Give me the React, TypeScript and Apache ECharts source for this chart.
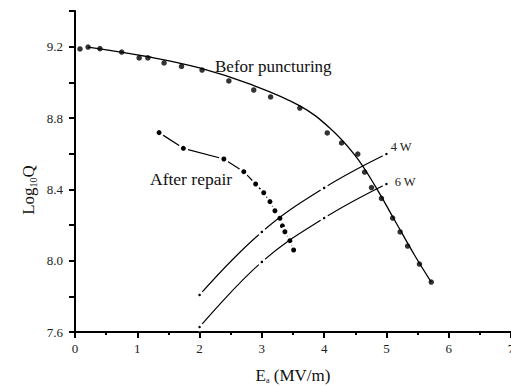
import React, { useEffect, useRef } from 'react';
import * as echarts from 'echarts';

// Axis ticks
const xLabelValues = [0, 1, 2, 3, 4, 5, 6, 7];
const yLabelValues = [7.6, 8.0, 8.4, 8.8, 9.2];

// "Befor puncturing" measured points
const beforeE = [0.08, 0.21, 0.40, 0.75, 1.03, 1.17, 1.43, 1.71, 2.04, 2.47, 2.87, 3.14, 3.61, 4.05, 4.28, 4.54, 4.65, 4.76, 4.92, 5.10, 5.22, 5.34, 5.53, 5.72];
const beforeQ = [9.187, 9.198, 9.189, 9.170, 9.137, 9.137, 9.109, 9.089, 9.069, 9.008, 8.957, 8.918, 8.856, 8.716, 8.660, 8.598, 8.497, 8.410, 8.349, 8.239, 8.161, 8.082, 7.981, 7.880];
// fitted curve through them
const fitE = [0.21, 1.20, 2.00, 2.80, 3.61, 4.09, 4.49, 4.81, 5.13, 5.45, 5.72];
const fitQ = [9.198, 9.142, 9.081, 8.991, 8.868, 8.744, 8.593, 8.424, 8.228, 8.032, 7.880];
// "After repair"
const repairE = [1.35, 1.74, 2.39, 2.71, 2.90, 3.03, 3.13, 3.21, 3.29, 3.33, 3.37, 3.45, 3.51];
const repairQ = [8.718, 8.630, 8.570, 8.499, 8.430, 8.381, 8.331, 8.280, 8.238, 8.195, 8.162, 8.112, 8.060];
// 4 W and 6 W
const w4E = [2, 3, 4, 5];
const w4Q = [7.808, 8.161, 8.408, 8.598];
const w6E = [2, 3, 4, 5];
const w6Q = [7.628, 7.993, 8.239, 8.430];

const SERIF = 'Liberation Serif, Times New Roman, serif';

function pairs(xs: number[], ys: number[]) {
  return xs.map((x, i) => [x, ys[i]]);
}

export default function App() {
  const ref = useRef<HTMLDivElement>(null);
  useEffect(() => {
    if (!ref.current) return;
    const chart = echarts.init(ref.current, undefined, { renderer: 'svg' });
    const lastLabel = (xs: number[], ys: number[], text: string, dist: number, off: number[]) =>
      xs.map((x, i) =>
        i === xs.length - 1
          ? {
              value: [x, ys[i]],
              label: {
                show: true,
                position: 'right',
                distance: dist,
                offset: off,
                formatter: text,
                fontFamily: SERIF,
                fontSize: 12.5,
                color: '#222',
              },
            }
          : [x, ys[i]]
      );
    chart.setOption({
      animation: false,
      grid: { left: 75, right: 0, top: 11, bottom: 54, containLabel: false, outerBoundsMode: 'none' },
      xAxis: {
        type: 'value',
        min: 0,
        max: 7,
        interval: 1,
        splitLine: { show: false },
        axisLine: { lineStyle: { color: '#000', width: 2 } },
        axisTick: { show: true, length: 6, lineStyle: { color: '#000', width: 2 } },
        minorTick: { show: true, splitNumber: 2, length: 3, lineStyle: { color: '#000', width: 2 } },
        axisLabel: {
          fontFamily: SERIF,
          fontSize: 13,
          color: '#222',
          margin: 10,
          formatter: (v: number) => (xLabelValues.includes(v) ? String(v) : ''),
        },
        name: '{a|E}{s|a}{a| (MV/m)}',
        nameLocation: 'middle',
        nameGap: 34,
        nameTextStyle: {
          rich: {
            a: { fontFamily: SERIF, fontSize: 17, color: '#111', lineHeight: 18 },
            s: { fontFamily: SERIF, fontSize: 8, color: '#111', lineHeight: 18, verticalAlign: 'bottom' },
          },
        },
      },
      yAxis: {
        type: 'value',
        min: 7.6,
        max: 9.4,
        interval: 0.2,
        splitLine: { show: false },
        axisLine: { show: true, lineStyle: { color: '#000', width: 2 } },
        axisTick: { show: true, length: 6, lineStyle: { color: '#000', width: 2 } },
        axisLabel: {
          fontFamily: SERIF,
          fontSize: 13,
          color: '#222',
          margin: 12,
          formatter: (v: number) =>
            yLabelValues.some((t) => Math.abs(t - v) < 1e-6) ? v.toFixed(1) : '',
        },
      },
      graphic: [
        {
          type: 'text',
          x: 28,
          y: 190,
          rotation: Math.PI / 2,
          style: {
            text: '{a|Log}{s|10}{a|Q}',
            align: 'center',
            verticalAlign: 'middle',
            rich: {
              a: { fontFamily: SERIF, fontSize: 17, fill: '#111', lineHeight: 20 },
              s: { fontFamily: SERIF, fontSize: 10, fill: '#111', lineHeight: 20, verticalAlign: 'bottom' },
            },
          },
        },
        {
          type: 'text',
          x: 215,
          y: 66,
          style: {
            text: 'Befor puncturing',
            fontFamily: SERIF,
            fontSize: 17,
            fill: '#111',
            verticalAlign: 'middle',
          },
        },
        {
          type: 'text',
          x: 150,
          y: 179,
          style: {
            text: 'After repair',
            fontFamily: SERIF,
            fontSize: 17.5,
            fill: '#111',
            verticalAlign: 'middle',
          },
        },
      ],
      series: [
        {
          type: 'line',
          z: 2,
          data: pairs(repairE, repairQ),
          symbol: 'circle',
          symbolSize: 7.5,
          itemStyle: { color: '#000', borderColor: '#fff', borderWidth: 2.5 },
          lineStyle: { color: '#000', width: 1.2 },
        },
        {
          type: 'line',
          z: 3,
          smooth: 0.4,
          data: lastLabel(w4E, w4Q, '4 W', 0, [0, -7]),
          symbol: 'circle',
          symbolSize: 5.5,
          itemStyle: { color: '#000', borderColor: '#fff', borderWidth: 3 },
          lineStyle: { color: '#000', width: 1.2 },
        },
        {
          type: 'line',
          z: 3,
          smooth: 0.4,
          data: lastLabel(w6E, w6Q, '6 W', 4, [0, -2]),
          symbol: 'circle',
          symbolSize: 5.5,
          itemStyle: { color: '#000', borderColor: '#fff', borderWidth: 3 },
          lineStyle: { color: '#000', width: 1.2 },
        },
        {
          type: 'line',
          z: 4,
          smooth: 0.4,
          data: pairs(fitE, fitQ),
          symbol: 'none',
          lineStyle: { color: '#000', width: 1.3 },
        },
        {
          type: 'scatter',
          z: 5,
          data: pairs(beforeE, beforeQ),
          symbol: 'circle',
          symbolSize: 5.5,
          itemStyle: { color: '#000' },
        },
      ],
    });
    return () => chart.dispose();
  }, []);
  return (
    <div
      ref={ref}
      style={{ position: 'absolute', left: 0, top: 0, width: 511, height: 386, background: '#fff' }}
    />
  );
}
